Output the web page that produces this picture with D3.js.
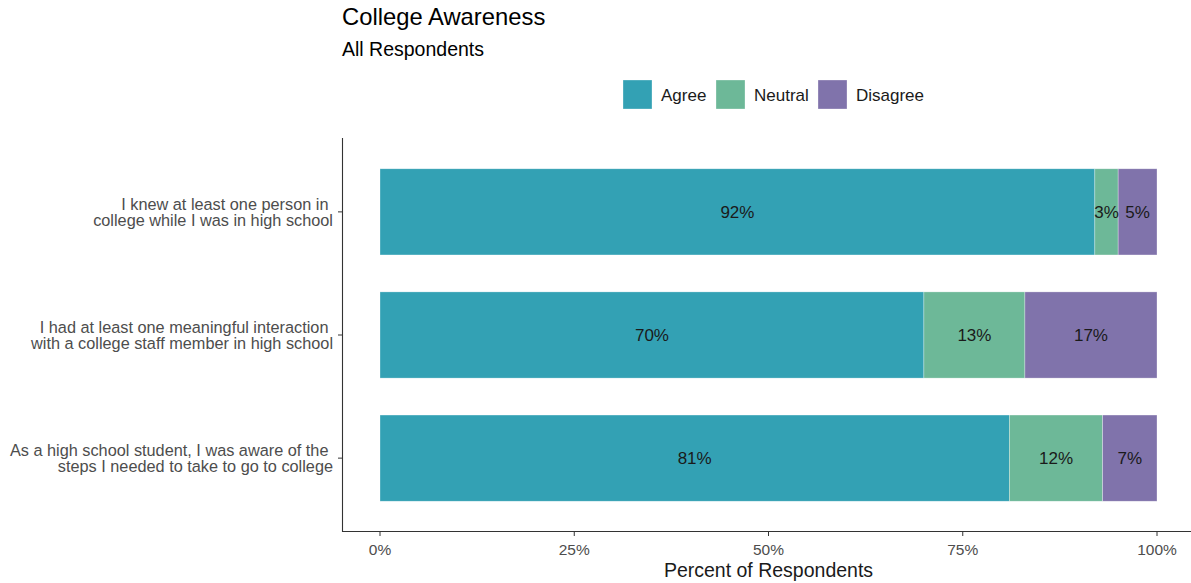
<!DOCTYPE html>
<html>
<head>
<meta charset="utf-8">
<script src="https://cdn.jsdelivr.net/npm/d3@7"></script>
<style>
  html, body { margin: 0; padding: 0; background: #fff; }
  svg { display: block; font-family: "Liberation Sans", Arial, sans-serif; }
</style>
</head>
<body>
<svg id="chart" width="1191" height="583"></svg>
<script>
// ---- data ----
const categories = [
  ["I knew at least one person in ", "college while I was in high school"],
  ["I had at least one meaningful interaction ", "with a college staff member in high school"],
  ["As a high school student, I was aware of the ", "steps I needed to take to go to college"]
];
const seriesNames = ["Agree", "Neutral", "Disagree"];
const agreeValues = [92, 70, 81];
const neutralValues = [3, 13, 12];
const disagreeValues = [5, 17, 7];
const xTickLabels = ["0%", "25%", "50%", "75%", "100%"];
const xTickValues = [0, 0.25, 0.5, 0.75, 1];
const colors = ["#33a1b4", "#6db898", "#8073ab"];

const svg = d3.select("#chart");

// scales (ggplot-like expansion)
const x = d3.scaleLinear().domain([-0.05, 1.05]).range([341.15, 1195.85]);
const y = d3.scaleLinear().domain([0.4, 3.6]).range([138, 532]);
const barHalf = 0.35;

const rows = categories.map((c, i) => {
  const vals = [agreeValues[i], neutralValues[i], disagreeValues[i]];
  const total = d3.sum(vals);
  let cum = 0;
  return vals.map((v, k) => {
    const seg = { row: i, key: k, v: v, x0: cum / total, x1: (cum + v) / total };
    cum += v;
    return seg;
  });
});

// bars
const segs = rows.flat();
svg.append("g").selectAll("rect").data(segs).join("rect")
  .attr("x", d => x(d.x0))
  .attr("width", d => x(d.x1) - x(d.x0))
  .attr("y", d => y(d.row + 1 - barHalf))
  .attr("height", d => y(d.row + 1 + barHalf) - y(d.row + 1 - barHalf))
  .attr("fill", d => colors[d.key])
  .attr("stroke", "#ffffff")
  .attr("stroke-opacity", 0.5)
  .attr("stroke-width", 0.6);

// bar labels
svg.append("g").selectAll("text").data(segs).join("text")
  .attr("x", d => x((d.x0 + d.x1) / 2))
  .attr("y", d => y(d.row + 1))
  .attr("dy", "0.36em")
  .attr("text-anchor", "middle")
  .attr("font-size", 17)
  .attr("fill", "#1a1a1a")
  .text(d => d.v + "%");

// axes lines
const axisColor = "#333333";
svg.append("line")
  .attr("x1", 342.5).attr("x2", 342.5)
  .attr("y1", y(0.4)).attr("y2", y(3.6))
  .attr("stroke", axisColor).attr("stroke-width", 1.1);
svg.append("line")
  .attr("x1", 342).attr("x2", x(1.05))
  .attr("y1", y(3.6) - 0.5).attr("y2", y(3.6) - 0.5)
  .attr("stroke", axisColor).attr("stroke-width", 1.1);

// x ticks
const xt = svg.append("g");
xTickValues.forEach((v, i) => {
  xt.append("line")
    .attr("x1", x(v)).attr("x2", x(v))
    .attr("y1", y(3.6)).attr("y2", y(3.6) + 4)
    .attr("stroke", axisColor).attr("stroke-width", 1);
  xt.append("text")
    .attr("x", x(v)).attr("y", 555)
    .attr("text-anchor", "middle")
    .attr("font-size", 15.5)
    .attr("fill", "#4d4d4d")
    .text(xTickLabels[i]);
});

// y ticks and labels
const yt = svg.append("g");
categories.forEach((lines, i) => {
  const cy = y(i + 1);
  yt.append("line")
    .attr("x1", 338).attr("x2", 342)
    .attr("y1", cy).attr("y2", cy)
    .attr("stroke", axisColor).attr("stroke-width", 1);
  const t = yt.append("text")
    .attr("text-anchor", "end")
    .attr("font-size", 16.3)
    .attr("fill", "#4d4d4d")
    .attr("xml:space", "preserve")
    .style("white-space", "pre");
  lines.forEach((ln, j) => {
    t.append("tspan")
      .attr("x", 333)
      .attr("y", cy + (j === 0 ? -8 : 8.5))
      .attr("dy", "0.36em")
      .text(ln);
  });
});

// axis title
svg.append("text")
  .attr("x", (x(-0.05) + x(1.05)) / 2)
  .attr("y", 577)
  .attr("text-anchor", "middle")
  .attr("font-size", 19.5)
  .attr("fill", "#1a1a1a")
  .text("Percent of Respondents");

// title and subtitle
svg.append("text")
  .attr("x", 342).attr("y", 25)
  .attr("font-size", 23.8)
  .attr("fill", "#000")
  .text("College Awareness");
svg.append("text")
  .attr("x", 342).attr("y", 56)
  .attr("font-size", 19.5)
  .attr("fill", "#000")
  .text("All Respondents");

// legend
const legendX = [623, 716, 818];
const lg = svg.append("g");
seriesNames.forEach((name, i) => {
  lg.append("rect")
    .attr("x", legendX[i]).attr("y", 80)
    .attr("width", 29).attr("height", 29)
    .attr("fill", colors[i])
    .attr("stroke", "#ffffff").attr("stroke-opacity", 0.5).attr("stroke-width", 0.6);
  lg.append("text")
    .attr("x", legendX[i] + 38).attr("y", 95)
    .attr("dy", "0.36em")
    .attr("font-size", 17)
    .attr("fill", "#1a1a1a")
    .text(name);
});
</script>
</body>
</html>
